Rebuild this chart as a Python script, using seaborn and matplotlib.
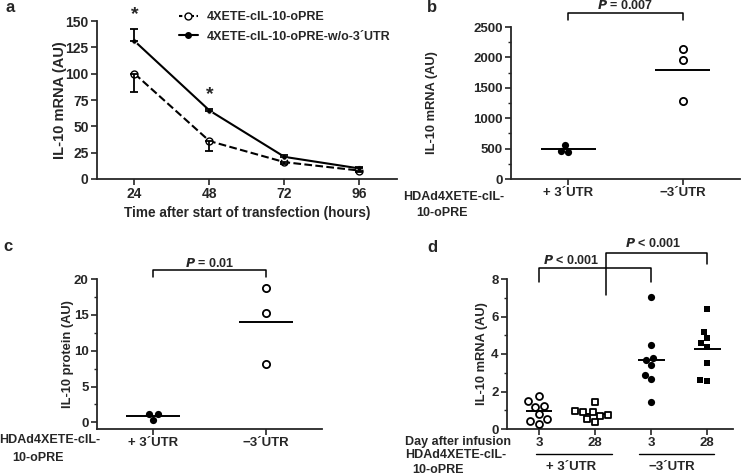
import numpy as np
import pandas as pd
import seaborn as sns
import matplotlib
matplotlib.use("Agg")
import matplotlib.pyplot as plt
from matplotlib.lines import Line2D
from matplotlib.ticker import MultipleLocator

# panel a: time course
hours = [24, 48, 72, 96]
with_utr = [100, 36, 16, 8]
with_utr_err = [17, 9, 2, 1]
wo_utr = [131, 65, 21, 10]
wo_utr_err = [11, 1, 2, 1]
series_labels = ["4XETE-cIL-10-oPRE", "4XETE-cIL-10-oPRE-w/o-3´UTR"]

# panels b and c
utr_groups = ["+ 3´UTR", "−3´UTR"]
b_plus = [560, 450, 460]
b_minus = [2130, 1960, 1290]
c_plus = [1.1, 0.3, 1.1]
c_minus = [18.8, 15.2, 8.2]

# panel d
d_keys = ["p3", "p28", "m3", "m28"]
d_days = ["3", "28", "3", "28"]
d_plus_3 = [1.78, 1.51, 1.24, 1.19, 0.78, 0.52, 0.44, 0.27]
d_plus_28 = [1.46, 0.89, 0.89, 0.98, 0.69, 0.75, 0.52, 0.36]
d_minus_3 = [7.06, 4.48, 3.77, 3.68, 3.4, 2.88, 2.67, 1.42]
d_minus_28 = [6.38, 5.16, 4.84, 4.57, 4.36, 3.54, 2.56, 2.61]

sns.set_style("ticks")
plt.rcParams["font.family"] = ["Liberation Sans", "DejaVu Sans"]
plt.rcParams["font.weight"] = "bold"
plt.rcParams["axes.labelweight"] = "bold"
plt.rcParams["font.size"] = 9
plt.rcParams["axes.linewidth"] = 1.3
plt.rcParams["xtick.major.width"] = 1.2
plt.rcParams["ytick.major.width"] = 1.2
plt.rcParams["ytick.minor.width"] = 1.0
plt.rcParams["xtick.major.size"] = 4
plt.rcParams["ytick.major.size"] = 4
plt.rcParams["ytick.minor.size"] = 2.5

W, H = 741, 476
fig = plt.figure(figsize=(W / 100, H / 100), dpi=100)


def px_axes(left, top, right, bottom):
    return fig.add_axes([left / W, 1 - bottom / H, (right - left) / W, (bottom - top) / H])


def style(ax, size=9.5):
    sns.despine(ax=ax)
    ax.tick_params(labelsize=size, pad=2)
    for lab in ax.get_xticklabels() + ax.get_yticklabels():
        lab.set_fontweight("bold")


def dots(ax, values, key, order, marker, filled, size=5.2):
    df = pd.DataFrame({"grp": [key] * len(values), "val": values})
    sns.swarmplot(data=df, x="grp", y="val", order=order, ax=ax, marker=marker,
                  color="black" if filled else "white", edgecolor="black",
                  linewidth=0 if filled else 1.3, size=size, zorder=3)
    i = order.index(key)
    ax.hlines(np.mean(values), i - 0.24, i + 0.24, color="black", lw=1.4, zorder=2)


def bracket(ax, x0, x1, top, y0, y1, text, tx, ty):
    ax.plot([x0, x0, x1, x1], [y0, top, top, y1], color="black", lw=1.1, clip_on=False)
    ax.text(tx, ty, text, ha="center", va="center", fontsize=9, fontweight="bold")


def label(x, y, s, ha="center", size=9):
    fig.text(x / W, 1 - y / H, s, ha=ha, va="center", fontsize=size, fontweight="bold")


# ---- panel a
ax = px_axes(97, 21, 397, 179)
dash_kw = dict(color="black", ls="--", lw=1.5, marker="o", ms=5,
               markerfacecolor="white", markeredgecolor="black", mew=1.0)
solid_kw = dict(color="black", ls="-", lw=1.5, marker="o", ms=4)
sns.lineplot(x=hours, y=with_utr, ax=ax, legend=False, **dash_kw)
sns.lineplot(x=hours, y=wo_utr, ax=ax, legend=False, **solid_kw)
ax.errorbar(hours, with_utr, yerr=[with_utr_err, [0] * 4], fmt="none", ecolor="black",
            elinewidth=1.3, capsize=3, capthick=1.3)
ax.errorbar(hours, wo_utr, yerr=[[0] * 4, wo_utr_err], fmt="none", ecolor="black",
            elinewidth=1.3, capsize=3, capthick=1.3)
ax.set_xlim(12, 108)
ax.set_ylim(0, 150)
ax.set_xticks(hours)
ax.set_yticks(range(0, 151, 25))
ax.set_ylabel("IL-10 mRNA (AU)", fontsize=10.5)
ax.set_xlabel("Time after start of transfection (hours)", fontsize=9.8)
ax.yaxis.set_label_coords(-0.1, 0.5)
ax.xaxis.set_label_coords(0.5, -0.17)
ax.text(24, 156, "*", ha="center", va="center", fontsize=14, fontweight="bold", clip_on=False)
ax.text(48, 80, "*", ha="center", va="center", fontsize=14, fontweight="bold")
leg_dash = dict(dash_kw, ls=(0, (1.6, 1.2)))
handles = [Line2D([], [], **leg_dash), Line2D([], [], **solid_kw)]
ax.legend(handles, series_labels, loc="upper left", bbox_to_anchor=(179 / W, 1 - 11 / H),
          bbox_transform=fig.transFigure, frameon=False, handlelength=1.5,
          handletextpad=0.7, labelspacing=0.6, borderpad=0, borderaxespad=0,
          prop={"weight": "bold", "size": 9})
style(ax, 10)
label(10, 8, "a", size=12)

# ---- panel b
ax = px_axes(511, 27, 740, 179)
dots(ax, b_plus, utr_groups[0], utr_groups, "o", True)
dots(ax, b_minus, utr_groups[1], utr_groups, "o", False)
ax.set_xlim(-0.5, 1.5)
ax.set_ylim(0, 2500)
ax.set_yticks(range(0, 2501, 500))
ax.yaxis.set_minor_locator(MultipleLocator(250))
ax.set_xlabel("")
ax.set_ylabel("IL-10 mRNA (AU)", fontsize=9.3)
ax.yaxis.set_label_coords(-0.32, 0.5)
bracket(ax, 0, 1, 2730, 2615, 2615, "$\\bfit{P}$ = 0.007", 0.5, 2860)
style(ax)
label(454, 197, "HDAd4XETE-cIL-")
label(442, 213, "10-oPRE")
label(432, 8, "b", size=12)

# ---- panel c
ax = px_axes(97, 279, 322, 429)
dots(ax, c_plus, utr_groups[0], utr_groups, "o", True)
dots(ax, c_minus, utr_groups[1], utr_groups, "o", False)
ax.set_xlim(-0.5, 1.5)
ax.set_ylim(-0.93, 20)
ax.set_yticks(range(0, 21, 5))
ax.yaxis.set_minor_locator(MultipleLocator(2.5))
ax.set_xlabel("")
ax.set_ylabel("IL-10 protein (AU)", fontsize=9.3)
ax.yaxis.set_label_coords(-0.102, 0.5)
bracket(ax, 0, 1, 21.3, 20.3, 20.3, "$\\bfit{P}$ = 0.01", 0.5, 22.2)
style(ax)
label(50, 440, "HDAd4XETE-cIL-")
label(38, 458, "10-oPRE")
label(8, 246, "c", size=12)

# ---- panel d
ax = px_axes(507, 279, 733, 429)
dots(ax, d_plus_3, d_keys[0], d_keys, "o", False, 5.0)
dots(ax, d_plus_28, d_keys[1], d_keys, "s", False, 4.4)
dots(ax, d_minus_3, d_keys[2], d_keys, "o", True, 5.2)
dots(ax, d_minus_28, d_keys[3], d_keys, "s", True, 5.0)
ax.set_xlim(-0.57, 3.46)
ax.set_ylim(0, 8)
ax.set_yticks(range(0, 9, 2))
ax.yaxis.set_minor_locator(MultipleLocator(1))
ax.set_xticks(range(4))
ax.set_xticklabels(d_days)
ax.set_xlabel("")
ax.set_ylabel("IL-10 mRNA (AU)", fontsize=9.3)
ax.yaxis.set_label_coords(-0.084, 0.5)
bracket(ax, 0, 2, 8.6, 7.86, 7.86, "$\\bfit{P}$ < 0.001", 0.57, 8.99)
bracket(ax, 1.19, 3, 9.4, 7.16, 8.82, "$\\bfit{P}$ < 0.001", 2.04, 9.88)
trans = ax.get_xaxis_transform()
for x0, x1, lab, tx in [(-0.05, 1.3, utr_groups[0], 0.57), (1.78, 3.13, utr_groups[1], 2.37)]:
    ax.plot([x0, x1], [-0.165, -0.165], color="black", lw=1.0, transform=trans, clip_on=False)
    ax.text(tx, -0.255, lab, transform=trans, ha="center", va="center", fontsize=9.5,
            fontweight="bold")
style(ax)
label(405, 442, "Day after infusion", ha="left")
label(405, 455, "HDAd4XETE-cIL-", ha="left")
label(412, 470, "10-oPRE", ha="left")
label(432, 247, "d", size=12)

fig.savefig("out.png", dpi=100)
